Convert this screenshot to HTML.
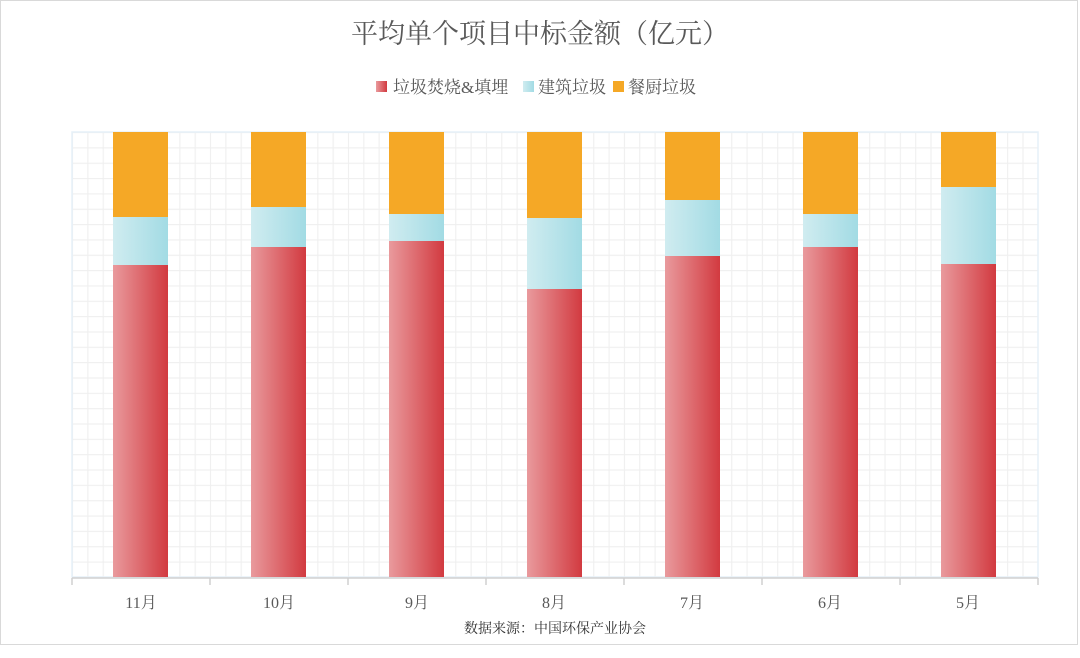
<!DOCTYPE html>
<html><head><meta charset="utf-8"><style>
html,body{margin:0;padding:0;background:#fff;}
svg{display:block;}
text{font-family:"Liberation Serif","Noto Serif CJK SC","Noto Sans CJK SC",serif;}
</style></head><body>
<svg width="1080" height="658" viewBox="0 0 1080 658" xmlns="http://www.w3.org/2000/svg">
<defs>
<linearGradient id="r" x1="0" x2="1" y1="0" y2="0"><stop offset="0" stop-color="#e99a9d"/><stop offset="1" stop-color="#d23a40"/></linearGradient>
<linearGradient id="c" x1="0" x2="1" y1="0" y2="0"><stop offset="0" stop-color="#d0ecf0"/><stop offset="1" stop-color="#a2dbe4"/></linearGradient>
<pattern id="g" x="72" y="132" width="15.33" height="15.34" patternUnits="userSpaceOnUse">
<path d="M0 0V15.34M0 0H15.33" stroke="#efefef" stroke-width="2.2" fill="none"/>
</pattern>
</defs>
<rect x="0.5" y="0.5" width="1077" height="644" fill="#fff" stroke="#d9d9d9"/>
<rect x="72" y="132" width="966" height="445" fill="url(#g)"/>
<rect x="72" y="132" width="966" height="445" fill="none" stroke="#e6f0f8" stroke-width="1.5"/>
<text x="540" y="43" text-anchor="middle" font-size="27" fill="#595959">平均单个项目中标金额（亿元）</text>
<rect x="376" y="81" width="11" height="11" fill="url(#r)"/>
<text x="393" y="93" font-size="17" fill="#595959">垃圾焚烧&amp;填埋</text>
<rect x="523" y="81" width="11" height="11" fill="url(#c)"/>
<text x="538" y="93" font-size="17" fill="#595959">建筑垃圾</text>
<rect x="613" y="81" width="11" height="11" fill="#f5a826"/>
<text x="628" y="93" font-size="17" fill="#595959">餐厨垃圾</text>
<g>
<rect x="113" y="132" width="55" height="85" fill="#f5a826"/><rect x="113" y="217" width="55" height="48" fill="url(#c)"/><rect x="113" y="265" width="55" height="312" fill="url(#r)"/>
<rect x="251" y="132" width="55" height="75" fill="#f5a826"/><rect x="251" y="207" width="55" height="40" fill="url(#c)"/><rect x="251" y="247" width="55" height="330" fill="url(#r)"/>
<rect x="389" y="132" width="55" height="82" fill="#f5a826"/><rect x="389" y="214" width="55" height="27" fill="url(#c)"/><rect x="389" y="241" width="55" height="336" fill="url(#r)"/>
<rect x="527" y="132" width="55" height="86" fill="#f5a826"/><rect x="527" y="218" width="55" height="71" fill="url(#c)"/><rect x="527" y="289" width="55" height="288" fill="url(#r)"/>
<rect x="665" y="132" width="55" height="68" fill="#f5a826"/><rect x="665" y="200" width="55" height="56" fill="url(#c)"/><rect x="665" y="256" width="55" height="321" fill="url(#r)"/>
<rect x="803" y="132" width="55" height="82" fill="#f5a826"/><rect x="803" y="214" width="55" height="33" fill="url(#c)"/><rect x="803" y="247" width="55" height="330" fill="url(#r)"/>
<rect x="941" y="132" width="55" height="55" fill="#f5a826"/><rect x="941" y="187" width="55" height="77" fill="url(#c)"/><rect x="941" y="264" width="55" height="313" fill="url(#r)"/>
</g>
<path d="M72 578H1038M72 578v7M210 578v7M348 578v7M486 578v7M624 578v7M762 578v7M900 578v7M1038 578v7" stroke="#d0d0d0" stroke-width="1.5" fill="none"/>
<g font-size="16" fill="#595959" text-anchor="middle">
<text x="141" y="608">11月</text><text x="279" y="608">10月</text><text x="417" y="608">9月</text><text x="554" y="608">8月</text><text x="692" y="608">7月</text><text x="830" y="608">6月</text><text x="968" y="608">5月</text>
</g>
<text x="555" y="633" text-anchor="middle" font-size="14" fill="#333">数据来源：中国环保产业协会</text>
</svg>
</body></html>
